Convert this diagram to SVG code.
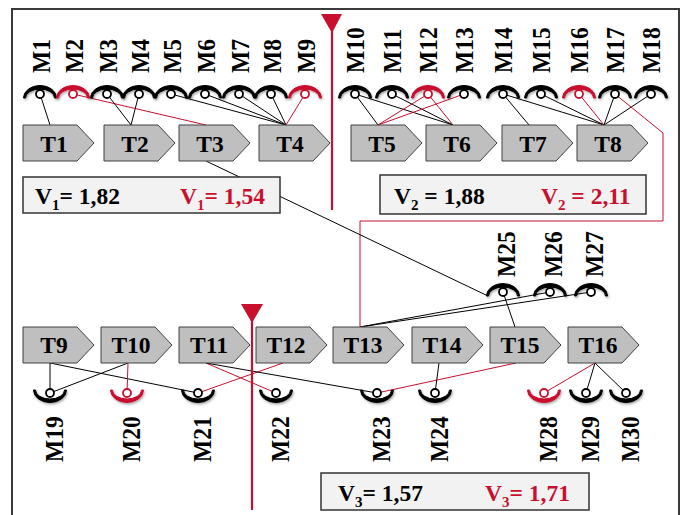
<svg xmlns="http://www.w3.org/2000/svg" xmlns:xlink="http://www.w3.org/1999/xlink" width="681" height="515" viewBox="0 0 681 515">
  <style>
    .frame { fill: none; stroke: #3a3a3a; stroke-width: 2; }
    .task { fill: #bfbfbf; stroke: #404040; stroke-width: 1; }
    .tlabel { font-family: "Liberation Serif", "Times New Roman", serif; font-weight: bold; font-size: 23.5px; fill: #000; text-anchor: middle; }
    .mlabel { font-family: "Liberation Serif", "Times New Roman", serif; font-weight: bold; font-size: 23.5px; fill: #000; }
    .vtext { font-family: "Liberation Serif", "Times New Roman", serif; font-weight: bold; font-size: 23.5px; }
    .blk { fill: #000; }
    .redt { fill: #c8102e; }
    .cup { fill: #000; stroke: #000; stroke-width: 1; filter: url(#soft); }
    .cup.r { fill: #c8102e; stroke: #c8102e; }
    .port { fill: #fff; stroke: #000; stroke-width: 1.8; }
    .port.r { stroke: #c8102e; }
    .link { fill: none; stroke: #000; stroke-width: 1; }
    .link.r { stroke: #c8102e; }
    .vbox { fill: #f2f2f2; stroke: #333; stroke-width: 1.5; }
    .cut { fill: #c8102e; stroke: none; }
    .cutline { stroke: #c8102e; stroke-width: 2.2; fill: none; }
  </style>
  <defs>
    <filter id="soft" x="-30%" y="-50%" width="160%" height="200%">
      <feDropShadow dx="1" dy="1.5" stdDeviation="1" flood-color="#000" flood-opacity="0.35"/>
    </filter>
    <!-- socket crescent opening downward (arc above the port) -->
    <path id="cupUp" d="M-16.5,4 A16.5 12.5 0 0 1 16.5,4 L14.5,4 A14.5 9 0 0 0 -14.5,4 Z"/>
    <!-- socket crescent opening upward (arc below the port) -->
    <path id="cupDown" d="M-16.5,-3 A16.5 12.5 0 0 0 16.5,-3 L14.5,-3 A14.5 9 0 0 1 -14.5,-3 Z"/>
    <!-- task chevron, 71 x 36 -->
    <path id="chev" d="M0,0 H54 L71,18 L54,36 H0 Z"/>
  </defs>

  <!-- outer frame (open at the bottom edge) -->
  <path class="frame" d="M12,515 V9 H679 V515"/>

  <!-- connectors -->
  <g id="connectors">
    <!-- upper row, left group -->
    <line class="link" x1="40" y1="94" x2="50" y2="125"/>
    <line class="link r" x1="73" y1="94" x2="206" y2="125"/>
    <line class="link" x1="107" y1="94" x2="131" y2="125"/>
    <line class="link" x1="139" y1="94" x2="131" y2="125"/>
    <line class="link" x1="171" y1="94" x2="286" y2="125"/>
    <line class="link" x1="205" y1="94" x2="286" y2="125"/>
    <line class="link" x1="239" y1="94" x2="286" y2="125"/>
    <line class="link" x1="271" y1="94" x2="286" y2="125"/>
    <line class="link r" x1="305" y1="94" x2="286" y2="125"/>
    <!-- upper row, right group -->
    <line class="link" x1="355" y1="94" x2="378" y2="125"/>
    <line class="link" x1="355" y1="94" x2="453" y2="125"/>
    <line class="link" x1="392" y1="94" x2="453" y2="125"/>
    <line class="link r" x1="428" y1="94" x2="378" y2="125"/>
    <line class="link r" x1="428" y1="94" x2="453" y2="125"/>
    <line class="link r" x1="464" y1="94" x2="378" y2="125"/>
    <line class="link" x1="503" y1="94" x2="529" y2="125"/>
    <line class="link" x1="503" y1="94" x2="604" y2="125"/>
    <line class="link" x1="541" y1="94" x2="604" y2="125"/>
    <line class="link r" x1="579" y1="94" x2="604" y2="125"/>
    <line class="link" x1="615" y1="94" x2="604" y2="125"/>
    <line class="link" x1="651" y1="94" x2="604" y2="125"/>
    <polyline class="link r" points="615,94 663,133 663,221 360,221 360,327"/>
    <!-- middle -->
    <line class="link" x1="206" y1="161" x2="488" y2="296"/>
    <line class="link" x1="503" y1="292" x2="515" y2="327"/>
    <line class="link" x1="550" y1="292" x2="360" y2="327"/>
    <line class="link" x1="591" y1="292" x2="360" y2="327"/>
    <!-- lower row -->
    <line class="link" x1="50" y1="363" x2="50" y2="393"/>
    <line class="link" x1="128" y1="363" x2="50" y2="393"/>
    <line class="link" x1="50" y1="363" x2="198" y2="393"/>
    <line class="link r" x1="128" y1="363" x2="127" y2="393"/>
    <line class="link r" x1="206" y1="363" x2="276" y2="393"/>
    <line class="link r" x1="283" y1="363" x2="198" y2="393"/>
    <line class="link" x1="206" y1="363" x2="377" y2="393"/>
    <line class="link r" x1="516" y1="363" x2="377" y2="393"/>
    <line class="link" x1="439" y1="363" x2="435" y2="393"/>
    <line class="link r" x1="595" y1="363" x2="544" y2="393"/>
    <line class="link" x1="595" y1="363" x2="586" y2="393"/>
    <line class="link" x1="595" y1="363" x2="626" y2="393"/>
  </g>

  <!-- cut markers -->
  <g id="cut1">
    <line class="cutline" x1="332" y1="20" x2="332" y2="210"/>
    <polygon class="cut" points="321,14 342,14 332,33"/>
  </g>
  <g id="cut2">
    <line class="cutline" x1="252" y1="310" x2="252" y2="510"/>
    <polygon class="cut" points="241,304 263,304 252,323"/>
  </g>

  <!-- upper ports M1..M18 -->
  <g id="M1"><use href="#cupUp" class="cup" x="40" y="94"/><circle class="port" cx="40" cy="94" r="4"/><text class="mlabel" transform="translate(50,73) rotate(-90) scale(1,1.1)">M1</text></g>
  <g id="M2"><use href="#cupUp" class="cup r" x="73" y="94"/><circle class="port r" cx="73" cy="94" r="4"/><text class="mlabel" transform="translate(83,73) rotate(-90) scale(1,1.1)">M2</text></g>
  <g id="M3"><use href="#cupUp" class="cup" x="107" y="94"/><circle class="port" cx="107" cy="94" r="4"/><text class="mlabel" transform="translate(117,73) rotate(-90) scale(1,1.1)">M3</text></g>
  <g id="M4"><use href="#cupUp" class="cup" x="139" y="94"/><circle class="port" cx="139" cy="94" r="4"/><text class="mlabel" transform="translate(149,73) rotate(-90) scale(1,1.1)">M4</text></g>
  <g id="M5"><use href="#cupUp" class="cup" x="171" y="94"/><circle class="port" cx="171" cy="94" r="4"/><text class="mlabel" transform="translate(181,73) rotate(-90) scale(1,1.1)">M5</text></g>
  <g id="M6"><use href="#cupUp" class="cup" x="205" y="94"/><circle class="port" cx="205" cy="94" r="4"/><text class="mlabel" transform="translate(215,73) rotate(-90) scale(1,1.1)">M6</text></g>
  <g id="M7"><use href="#cupUp" class="cup" x="239" y="94"/><circle class="port" cx="239" cy="94" r="4"/><text class="mlabel" transform="translate(249,73) rotate(-90) scale(1,1.1)">M7</text></g>
  <g id="M8"><use href="#cupUp" class="cup" x="271" y="94"/><circle class="port" cx="271" cy="94" r="4"/><text class="mlabel" transform="translate(281,73) rotate(-90) scale(1,1.1)">M8</text></g>
  <g id="M9"><use href="#cupUp" class="cup r" x="305" y="94"/><circle class="port r" cx="305" cy="94" r="4"/><text class="mlabel" transform="translate(315,73) rotate(-90) scale(1,1.1)">M9</text></g>
  <g id="M10"><use href="#cupUp" class="cup" x="355" y="94"/><circle class="port" cx="355" cy="94" r="4"/><text class="mlabel" transform="translate(364,73) rotate(-90) scale(1,1.1)">M10</text></g>
  <g id="M11"><use href="#cupUp" class="cup" x="392" y="94"/><circle class="port" cx="392" cy="94" r="4"/><text class="mlabel" transform="translate(401,73) rotate(-90) scale(1,1.1)">M11</text></g>
  <g id="M12"><use href="#cupUp" class="cup r" x="428" y="94"/><circle class="port r" cx="428" cy="94" r="4"/><text class="mlabel" transform="translate(437,73) rotate(-90) scale(1,1.1)">M12</text></g>
  <g id="M13"><use href="#cupUp" class="cup" x="464" y="94"/><circle class="port" cx="464" cy="94" r="4"/><text class="mlabel" transform="translate(473,73) rotate(-90) scale(1,1.1)">M13</text></g>
  <g id="M14"><use href="#cupUp" class="cup" x="503" y="94"/><circle class="port" cx="503" cy="94" r="4"/><text class="mlabel" transform="translate(512,73) rotate(-90) scale(1,1.1)">M14</text></g>
  <g id="M15"><use href="#cupUp" class="cup" x="541" y="94"/><circle class="port" cx="541" cy="94" r="4"/><text class="mlabel" transform="translate(550,73) rotate(-90) scale(1,1.1)">M15</text></g>
  <g id="M16"><use href="#cupUp" class="cup r" x="579" y="94"/><circle class="port r" cx="579" cy="94" r="4"/><text class="mlabel" transform="translate(588,73) rotate(-90) scale(1,1.1)">M16</text></g>
  <g id="M17"><use href="#cupUp" class="cup" x="615" y="94"/><circle class="port" cx="615" cy="94" r="4"/><text class="mlabel" transform="translate(624,73) rotate(-90) scale(1,1.1)">M17</text></g>
  <g id="M18"><use href="#cupUp" class="cup" x="651" y="94"/><circle class="port" cx="651" cy="94" r="4"/><text class="mlabel" transform="translate(660,73) rotate(-90) scale(1,1.1)">M18</text></g>

  <!-- upper tasks T1..T8 -->
  <g id="T1"><use href="#chev" class="task" x="23" y="125"/><text class="tlabel" x="54" y="152">T1</text></g>
  <g id="T2"><use href="#chev" class="task" x="104" y="125"/><text class="tlabel" x="135" y="152">T2</text></g>
  <g id="T3"><use href="#chev" class="task" x="179" y="125"/><text class="tlabel" x="210" y="152">T3</text></g>
  <g id="T4"><use href="#chev" class="task" x="259" y="125"/><text class="tlabel" x="290" y="152">T4</text></g>
  <g id="T5"><use href="#chev" class="task" x="351" y="125"/><text class="tlabel" x="382" y="152">T5</text></g>
  <g id="T6"><use href="#chev" class="task" x="426" y="125"/><text class="tlabel" x="457" y="152">T6</text></g>
  <g id="T7"><use href="#chev" class="task" x="502" y="125"/><text class="tlabel" x="533" y="152">T7</text></g>
  <g id="T8"><use href="#chev" class="task" x="577" y="125"/><text class="tlabel" x="608" y="152">T8</text></g>

  <!-- value boxes -->
  <g id="V1">
    <rect class="vbox" x="23" y="177" width="257" height="36"/>
    <text class="vtext blk" x="35" y="204">V<tspan font-size="15" dy="6">1</tspan><tspan dy="-6">= 1,82</tspan></text>
    <text class="vtext redt" x="180" y="204">V<tspan font-size="15" dy="6">1</tspan><tspan dy="-6">= 1,54</tspan></text>
  </g>
  <g id="V2">
    <rect class="vbox" x="380" y="175" width="266" height="39"/>
    <text class="vtext blk" x="394" y="204">V<tspan font-size="15" dy="6">2</tspan><tspan dy="-6"> = 1,88</tspan></text>
    <text class="vtext redt" x="541" y="204">V<tspan font-size="15" dy="6">2</tspan><tspan dy="-6"> = 2,11</tspan></text>
  </g>
  <g id="V3">
    <rect class="vbox" x="321" y="473" width="268" height="37"/>
    <text class="vtext blk" x="338" y="501">V<tspan font-size="15" dy="6">3</tspan><tspan dy="-6">= 1,57</tspan></text>
    <text class="vtext redt" x="485" y="501">V<tspan font-size="15" dy="6">3</tspan><tspan dy="-6">= 1,71</tspan></text>
  </g>

  <!-- middle ports M25..M27 -->
  <g id="M25"><use href="#cupUp" class="cup" x="503" y="292"/><circle class="port" cx="503" cy="292" r="4"/><text class="mlabel" transform="translate(515,277) rotate(-90) scale(1,1.1)">M25</text></g>
  <g id="M26"><use href="#cupUp" class="cup" x="550" y="292"/><circle class="port" cx="550" cy="292" r="4"/><text class="mlabel" transform="translate(562,277) rotate(-90) scale(1,1.1)">M26</text></g>
  <g id="M27"><use href="#cupUp" class="cup" x="591" y="292"/><circle class="port" cx="591" cy="292" r="4"/><text class="mlabel" transform="translate(603,277) rotate(-90) scale(1,1.1)">M27</text></g>

  <!-- lower tasks T9..T16 -->
  <g id="T9"><use href="#chev" class="task" x="23" y="327"/><text class="tlabel" x="54" y="353">T9</text></g>
  <g id="T10"><use href="#chev" class="task" x="101" y="327"/><text class="tlabel" x="131" y="353">T10</text></g>
  <g id="T11"><use href="#chev" class="task" x="179" y="327"/><text class="tlabel" x="209" y="353">T11</text></g>
  <g id="T12"><use href="#chev" class="task" x="256" y="327"/><text class="tlabel" x="286" y="353">T12</text></g>
  <g id="T13"><use href="#chev" class="task" x="333" y="327"/><text class="tlabel" x="363" y="353">T13</text></g>
  <g id="T14"><use href="#chev" class="task" x="412" y="327"/><text class="tlabel" x="442" y="353">T14</text></g>
  <g id="T15"><use href="#chev" class="task" x="490" y="327"/><text class="tlabel" x="520" y="353">T15</text></g>
  <g id="T16"><use href="#chev" class="task" x="568" y="327"/><text class="tlabel" x="598" y="353">T16</text></g>

  <!-- lower ports -->
  <g id="M19"><use href="#cupDown" class="cup" x="50" y="393"/><circle class="port" cx="50" cy="393" r="4"/><text class="mlabel" transform="translate(63,462) rotate(-90) scale(1,1.1)">M19</text></g>
  <g id="M20"><use href="#cupDown" class="cup r" x="127" y="393"/><circle class="port r" cx="127" cy="393" r="4"/><text class="mlabel" transform="translate(140,462) rotate(-90) scale(1,1.1)">M20</text></g>
  <g id="M21"><use href="#cupDown" class="cup" x="198" y="393"/><circle class="port" cx="198" cy="393" r="4"/><text class="mlabel" transform="translate(211,462) rotate(-90) scale(1,1.1)">M21</text></g>
  <g id="M22"><use href="#cupDown" class="cup" x="276" y="393"/><circle class="port" cx="276" cy="393" r="4"/><text class="mlabel" transform="translate(289,462) rotate(-90) scale(1,1.1)">M22</text></g>
  <g id="M23"><use href="#cupDown" class="cup" x="377" y="393"/><circle class="port" cx="377" cy="393" r="4"/><text class="mlabel" transform="translate(390,462) rotate(-90) scale(1,1.1)">M23</text></g>
  <g id="M24"><use href="#cupDown" class="cup" x="435" y="393"/><circle class="port" cx="435" cy="393" r="4"/><text class="mlabel" transform="translate(448,462) rotate(-90) scale(1,1.1)">M24</text></g>
  <g id="M28"><use href="#cupDown" class="cup r" x="544" y="393"/><circle class="port r" cx="544" cy="393" r="4"/><text class="mlabel" transform="translate(557,462) rotate(-90) scale(1,1.1)">M28</text></g>
  <g id="M29"><use href="#cupDown" class="cup" x="586" y="393"/><circle class="port" cx="586" cy="393" r="4"/><text class="mlabel" transform="translate(599,462) rotate(-90) scale(1,1.1)">M29</text></g>
  <g id="M30"><use href="#cupDown" class="cup" x="626" y="393"/><circle class="port" cx="626" cy="393" r="4"/><text class="mlabel" transform="translate(639,462) rotate(-90) scale(1,1.1)">M30</text></g>
</svg>
